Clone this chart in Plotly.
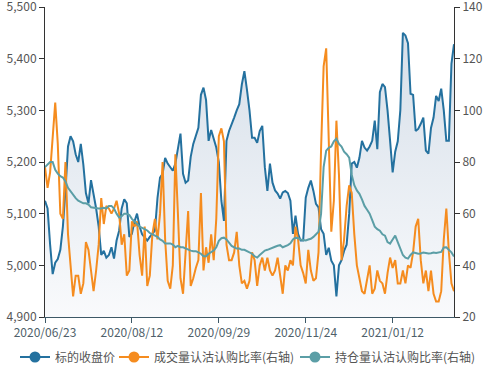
import pandas as pd
import plotly.graph_objects as go

# ---- categories: trading days 2020/06/23 .. 2021/02/22 (161 days) ----
holidays = ["2020-06-25", "2020-06-26", "2020-10-01", "2020-10-02", "2020-10-05",
            "2020-10-06", "2020-10-07", "2020-10-08", "2021-01-01", "2021-02-11",
            "2021-02-12", "2021-02-15", "2021-02-16", "2021-02-17"]
days = pd.bdate_range("2020-06-23", "2021-02-22")
days = [d for d in days if d.strftime("%Y-%m-%d") not in holidays]
dates = [d.strftime("%Y/%m/%d") for d in days]

tick_labels = ["2020/06/23", "2020/08/12", "2020/09/29", "2020/11/24", "2021/01/12"]

close_price = [
    5125, 5110, 5040, 4983, 5005, 5012, 5030, 5075, 5145, 5230,
    5250, 5240, 5215, 5200, 5235, 5195, 5140, 5120, 5165, 5140,
    5110, 5075, 5020, 5028, 5015, 5020, 5035, 5013, 5048, 5067,
    5110, 5128, 5120, 5055, 5061, 5085, 5100, 5075, 5060, 5054,
    5048, 5055, 5061, 5067, 5130, 5170, 5177, 5208, 5197, 5190,
    5183, 5197, 5230, 5255, 5177, 5160, 5164, 5210, 5235, 5250,
    5266, 5330, 5344, 5320, 5241, 5262, 5245, 5228, 5200, 5125,
    5086, 5241, 5260, 5275, 5286, 5300, 5312, 5350, 5376, 5340,
    5300, 5247, 5247, 5237, 5260, 5270, 5190, 5144, 5197, 5160,
    5145, 5139, 5129, 5141, 5144, 5140, 5125, 5061, 5096, 5061,
    5048, 5048, 5131, 5150, 5164, 5144, 5119, 5112, 5070, 5061,
    5020, 5034, 5009, 5000, 4940, 5000, 5010, 5028, 5040, 5100,
    5197, 5200, 5189, 5208, 5241, 5228, 5222, 5230, 5241, 5280,
    5225, 5335, 5351, 5345, 5300, 5241, 5180, 5220, 5240, 5300,
    5450, 5445, 5430, 5332, 5330, 5260, 5264, 5274, 5286, 5222,
    5216, 5266, 5286, 5328, 5318, 5342, 5300, 5241, 5241, 5390,
    5428,
]

volume_ratio = [
    78, 70, 76, 88, 103, 87, 60, 58, 80, 52,
    38, 28, 36, 36, 29, 33, 49, 46, 38, 30,
    38, 48, 66, 56, 63, 62, 60, 62, 65, 60,
    48, 52, 36, 38, 57, 55, 57, 44, 36, 55,
    32, 36, 52, 58, 50, 60, 80, 50, 34, 31,
    40, 83, 60, 35, 29, 45, 61, 32, 35, 39,
    42, 68, 38, 47, 41, 52, 42, 58, 90, 93,
    88, 48, 42, 42, 45, 53, 40, 33, 34, 31,
    34, 45, 42, 32, 40, 43, 38, 43, 38, 36,
    38, 43, 35, 29, 40, 38, 42, 40, 55, 50,
    40, 37, 33, 46, 38, 34, 35, 45, 85, 117,
    124, 90, 53, 65, 96, 75, 42, 50, 63, 71,
    68, 52, 40, 35, 30, 29, 35, 40, 29, 31,
    38, 34, 33, 29, 37, 43, 39, 42, 33, 33,
    38, 33, 40, 39, 45, 55, 58, 42, 33, 38,
    30, 38, 29, 26, 26, 30, 50, 62, 45, 33,
    30,
]

oi_ratio = [
    78, 79, 80, 80, 77, 75.5, 74.5, 74, 72.5, 70,
    68.5, 67, 66, 65, 64.5, 64, 64, 63.5, 62.5, 62.3,
    62, 62, 62, 62.3, 62, 63, 63, 62, 60, 58.5,
    59, 60, 60, 59.5, 58, 57, 56, 55, 54.5, 54,
    53.5, 52.5, 52, 51.5, 51, 50, 49.5, 48.5, 48.4, 48.5,
    48, 47, 47.5, 47, 47, 46.5, 46, 45.7, 45.5, 45.5,
    45, 44.5, 43.5, 43.5, 44.5, 45, 45.7, 47, 49.5, 50.5,
    50.7, 50, 48.5, 47.5, 47, 46.5, 46.5, 46, 46, 45.5,
    45, 44.5, 43.5, 43, 44, 45, 45.7, 46, 46.5, 47,
    47.2, 47.6, 47.8, 47, 47.3, 47.8, 48.5, 50, 50.7, 50.5,
    50, 49.8, 49.6, 50, 50.3, 51, 52, 53, 60, 78,
    84.4, 85.5, 86, 88, 89, 87, 86, 84, 83, 81.7,
    75, 71, 69, 67.7, 65.5, 63, 61.5, 60, 57.5, 55,
    54, 53.4, 52, 51.5, 49, 48.4, 50, 51.5, 49, 46.5,
    44, 43, 42.6, 44, 45, 44.8, 44.5, 44.6, 45, 44.8,
    44.6, 44.7, 45, 44.8, 45, 45.2, 46.9, 47, 46, 45,
    43.4,
]

names = ["标的收盘价", "成交量认沽认购比率(右轴)", "持仓量认沽认购比率(右轴)"]
colors = ["#24719f", "#f58c1f", "#5b9ea6"]

FONT = "Noto Sans CJK SC"

fig = go.Figure()

fig.add_trace(go.Scatter(
    x=dates, y=close_price, mode="lines", name=names[0], showlegend=False,
    line=dict(color=colors[0], width=2),
    fill="tozeroy",
    fillgradient=dict(type="vertical",
                      colorscale=[[0, "rgba(249,250,252,1)"], [1, "rgba(214,223,233,1)"]],
                      start=4900, stop=5450),
    yaxis="y", hoverinfo="skip",
))
fig.add_trace(go.Scatter(
    x=dates, y=volume_ratio, mode="lines", name=names[1], showlegend=False,
    line=dict(color=colors[1], width=2), yaxis="y2",
))
fig.add_trace(go.Scatter(
    x=dates, y=oi_ratio, mode="lines", name=names[2], showlegend=False,
    line=dict(color=colors[2], width=2), yaxis="y2",
))

# legend entries (line + circle icon), one legend box per entry
legend_ids = ["legend", "legend2", "legend3"]
for nm, c, lg in zip(names, colors, legend_ids):
    fig.add_trace(go.Scatter(
        x=[None], y=[None], mode="lines+markers", name=nm,
        line=dict(color=c, width=2), marker=dict(color=c, size=11),
        yaxis="y", showlegend=True, legend=lg,
    ))

legend_left_px = [15, 114, 295]
legend_common = dict(
    orientation="h", xref="container", xanchor="left",
    yref="container", y=1 - 357 / 377, yanchor="middle",
    font=dict(family=FONT, size=12, color="#555"),
    itemwidth=30, bgcolor="rgba(0,0,0,0)",
)

fig.update_layout(
    width=504, height=377,
    margin=dict(l=45, r=50, t=7, b=60, autoexpand=False),
    paper_bgcolor="white", plot_bgcolor="white",
    font=dict(family=FONT, size=12, color="#555"),
    hovermode=False,
    xaxis=dict(
        type="category", range=[0, len(dates) - 1],
        tickmode="array", tickvals=tick_labels, ticktext=tick_labels,
        showgrid=False, zeroline=False,
        showline=True, linecolor="#3d5866", linewidth=1,
        ticks="outside", ticklen=5, tickcolor="#3d5866",
        tickfont=dict(family=FONT, size=12, color="#4f5f6a"),
    ),
    yaxis=dict(
        range=[4900, 5500], dtick=100, tickformat=",d",
        showgrid=False, zeroline=False,
        showline=True, linecolor="#333", linewidth=1,
        ticks="outside", ticklen=5, tickcolor="#333",
        ticklabeloverflow="allow",
        tickfont=dict(family=FONT, size=12, color="#555"),
    ),
    yaxis2=dict(
        range=[20, 140], dtick=20, overlaying="y", side="right",
        showgrid=False, zeroline=False,
        showline=True, linecolor="#333", linewidth=1,
        ticks="outside", ticklen=5, tickcolor="#333",
        ticklabeloverflow="allow",
        tickfont=dict(family=FONT, size=12, color="#555"),
    ),
    legend=dict(x=legend_left_px[0] / 504, **legend_common),
    legend2=dict(x=legend_left_px[1] / 504, **legend_common),
    legend3=dict(x=legend_left_px[2] / 504, **legend_common),
)

fig.write_html("out.html", config={"displayModeBar": False},
               post_script="document.body.style.margin='0px';")
